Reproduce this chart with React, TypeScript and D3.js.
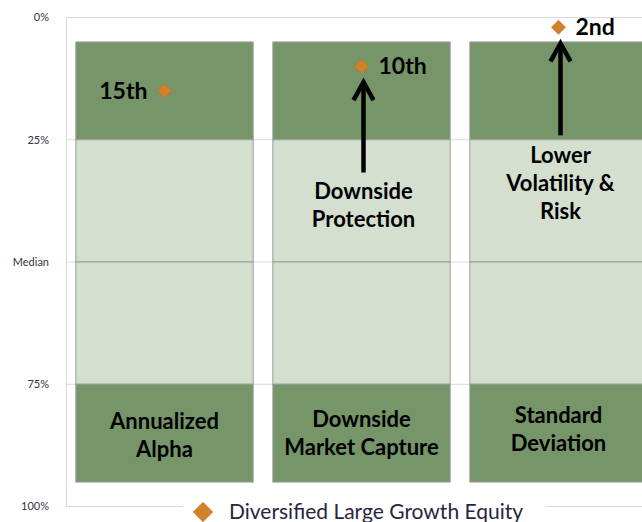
import * as d3 from "d3";

const categories = ["Annualized Alpha", "Downside Market Capture", "Standard Deviation"];
const categoryLines = [["Annualized", "Alpha"], ["Downside", "Market Capture"], ["Standard", "Deviation"]];
const bandEdges = [5, 25, 50, 75, 95];
const percentiles = [15, 10, 2];
const rankLabels = ["15th", "10th", "2nd"];
const arrowFrom = [null, 31.7, 24.1];
const arrowTo = [null, 12.8, 4.9];
const notes = [[], ["Downside", "Protection"], ["Lower", "Volatility &", "Risk"]];
const yTicks = [0, 25, 50, 75, 100];
const yTickLabels = ["0%", "25%", "Median", "75%", "100%"];
const seriesName = "Diversified Large Growth Equity";

const W = 642;
const H = 522;
const dark = "#769568";
const light = "#d4dfcf";
const orange = "#d3802b";
const font = "Lato, 'Open Sans', sans-serif";

// label baselines (px) for the category names in the bottom band
const catBase = [429, 427, 423];

export default function App() {
  const x = d3.scaleBand<string>().domain(categories).range([66, 657]).paddingInner(0.1).paddingOuter(0.05);
  const y = d3.scaleLinear().domain([0, 100]).range([17.5, 506.5]);
  const segs = d3.pairs(bandEdges);
  const diamond = d3.symbol(d3.symbolSquare, 100)();
  const bigDiamond = d3.symbol(d3.symbolSquare, 190)();

  return (
    <div style={{ position: "absolute", left: 0, top: 0 }}>
      <svg width={W} height={H} style={{ display: "block", background: "#fff" }}>
        {yTicks.map((t) => (
          <line key={t} x1={66} x2={W} y1={y(t)} y2={y(t)} stroke="#d9d9d9" />
        ))}
        <line x1={66.5} x2={66.5} y1={y(0)} y2={y(100)} stroke="#d9d9d9" />
        {yTicks.map((t, i) => (
          <text key={t} x={49} y={y(t)} dy="0.35em" textAnchor="end" fontFamily={font} fontSize={11} fill="#333340">
            {yTickLabels[i]}
          </text>
        ))}

        {categories.map((c, ci) => {
          const x0 = x(c)!;
          const bw = x.bandwidth();
          const cx = x0 + bw / 2;
          return (
            <g key={c}>
              {segs.map(([a, b], si) => (
                <rect key={si} x={x0} y={y(a)} width={bw} height={y(b) - y(a)}
                  fill={si === 0 || si === segs.length - 1 ? dark : light} stroke="#9a9a9a" strokeWidth={1} />
              ))}
              {categoryLines[ci].map((ln, li) => (
                <text key={li} x={cx} y={catBase[ci] + li * 28} textAnchor="middle"
                  fontFamily={font} fontWeight="bold" fontSize={22} fill="#000">{ln}</text>
              ))}
            </g>
          );
        })}

        {categories.map((c, ci) => {
          if (arrowFrom[ci] == null) return null;
          const ax = x(c)! + x.bandwidth() / 2 + 2;
          const top = y(arrowTo[ci]!);
          return (
            <g key={"a" + c} stroke="#000" strokeWidth={4.5} fill="none">
              <line x1={ax} x2={ax} y1={y(arrowFrom[ci]!)} y2={top + 2} />
              <polyline points={`${ax - 10},${top + 20} ${ax},${top + 2} ${ax + 10},${top + 20}`} strokeLinejoin="miter" />
            </g>
          );
        })}

        {categories.map((c, ci) => (
          <g key={"n" + c}>
            {notes[ci].map((ln, li) => (
              <text key={li} x={x(c)! + x.bandwidth() / 2 + 2} y={(ci === 1 ? 199 : 163) + li * 28} textAnchor="middle"
                fontFamily={font} fontWeight="bold" fontSize={22} fill="#000">{ln}</text>
            ))}
          </g>
        ))}

        {categories.map((c, ci) => {
          const cx = x(c)! + x.bandwidth() / 2;
          const cy = y(percentiles[ci]);
          return (
            <g key={"p" + c}>
              <path d={diamond!} transform={`translate(${cx},${cy}) rotate(45)`} fill={orange} stroke="#c0701f" strokeWidth={0.6} />
              <text x={ci === 0 ? cx - 17 : cx + 17} y={cy + 8} textAnchor={ci === 0 ? "end" : "start"}
                fontFamily={font} fontWeight="bold" fontSize={23} fill="#000">{rankLabels[ci]}</text>
            </g>
          );
        })}

        <rect x={183} y={495} width={363} height={27} fill="#fff" />
        <path d={bigDiamond!} transform="translate(203,512) rotate(45)" fill={orange} stroke="#c0701f" strokeWidth={0.6} />
        <text x={229} y={519} fontFamily={font} fontSize={21} fill="#262640">{seriesName}</text>
      </svg>
    </div>
  );
}
